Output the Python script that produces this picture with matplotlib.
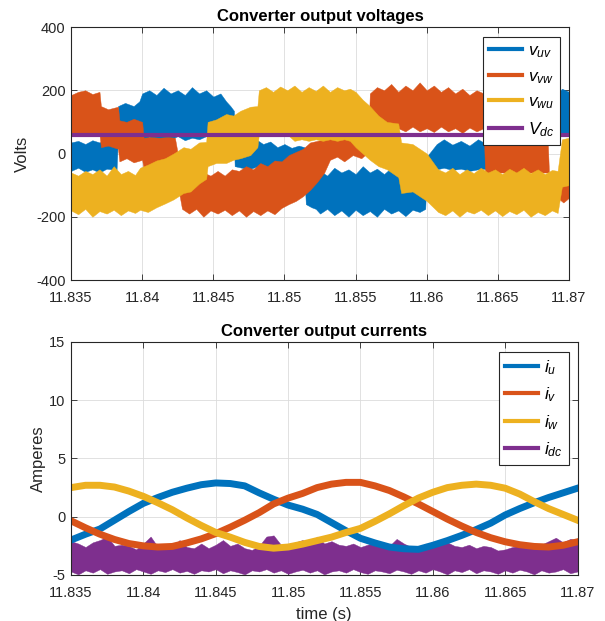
import numpy as np
import matplotlib
matplotlib.use("Agg")
import matplotlib.pyplot as plt
from matplotlib.ticker import FuncFormatter, MultipleLocator

plt.rcParams['font.family'] = 'Liberation Sans'
plt.rcParams['mathtext.fontset'] = 'custom'
plt.rcParams['mathtext.rm'] = 'Liberation Sans'
plt.rcParams['mathtext.it'] = 'Liberation Sans:italic'
plt.rcParams['axes.unicode_minus'] = False

T0 = 11.835  # start of the time window (s)

# line-line voltages: switching band as lower / upper envelope, time in ms after T0
vuv_ms = [0.0, 0.5, 1.0, 1.5, 2.0, 2.5, 3.2, 3.3, 3.8, 4.4, 4.8, 5.0, 5.5, 6.0, 6.5, 7.0,
          7.5, 8.0, 8.5, 9.0, 9.5, 10.0, 10.5, 10.9, 11.2, 11.45, 11.5, 12.0, 12.5, 13.0,
          13.5, 14.0, 14.5, 15.0, 15.5, 16.0, 16.4, 16.5, 16.9, 17.2, 17.5, 18.0, 18.5,
          19.0, 19.5, 20.0, 20.5, 21.0, 21.5, 22.0, 22.5, 23.0, 23.5, 24.0, 24.5, 24.9,
          25.0, 25.7, 26.2, 26.8, 27.4, 28.0, 28.6, 29.2, 31.5, 31.6, 33.0, 34.0, 34.5, 35.0]
vuv_lo = [-55, -45, -58, -50, -60, -48, -52, 50, 45, 55, 48, 45, 52, 40, 50, 45,
          55, 42, 50, 45, 55, 42, 50, 45, 48, 45, -40, -45, -50, -42,
          -55, -48, -58, -50, -60, -55, -60, -160, -170, -175, -190, -175, -195,
          -180, -200, -178, -195, -182, -200, -175, -190, -180, -198, -178, -185, -175,
          -45, -50, -45, -52, -48, -55, -50, -48, -50, 60, 55, 65, 60, 65]
vuv_hi = [35, 40, 30, 42, 35, 45, 38, 150, 160, 150, 165, 190, 200, 185, 208, 190,
          200, 185, 210, 190, 200, 180, 190, 165, 150, 135, 30, 40, 28, 45,
          30, 38, 20, 30, 18, 25, 20, -95, -85, -70, -55, -70, -45,
          -60, -50, -65, -40, -60, -48, -65, -45, -60, -50, -62, -50, -60,
          -10, 30, 45, 28, 40, 25, 45, 30, 40, 185, 200, 180, 205, 195]

vvw_ms = [0.0, 0.5, 1.0, 1.5, 2.0, 2.1, 2.6, 3.3, 3.4, 3.9, 4.4, 5.0, 5.1, 5.6, 6.2, 6.8,
          7.3, 7.8, 8.3, 8.8, 9.3, 9.8, 10.3, 10.8, 11.3, 11.8, 12.3, 12.8, 13.3, 13.8,
          14.3, 14.8, 15.3, 15.8, 16.3, 16.8, 17.3, 17.8, 18.2, 18.7, 19.2, 19.8, 20.4,
          20.9, 21.0, 21.5, 22.0, 22.5, 23.0, 23.5, 24.0, 24.5, 25.0, 25.5, 26.0, 26.5,
          27.0, 27.5, 28.0, 28.5, 29.0, 29.1, 33.5, 33.6, 34.2, 34.6, 35.0]
vvw_lo = [65, 60, 65, 62, 60, 20, 25, 15, -25, -15, -28, -20, -50, -40, -55, -45,
          -52, -175, -190, -175, -200, -180, -190, -178, -195, -180, -200, -182, -195, -180,
          -192, -172, -160, -150, -135, -115, -90, -60, -20, -10, -25, -5, -15,
          5, 80, 70, 85, 65, 80, 70, 85, 70, 80, 68, 85, 70,
          80, 65, 82, 70, 80, -60, -60, -150, -140, -155, -140]
vvw_hi = [185, 195, 200, 188, 195, 150, 140, 148, 105, 100, 110, 100, 50, 52, 50, 52,
          50, -75, -65, -80, -60, -70, -55, -70, -50, -55, -40, -50, -30, -40,
          -22, -25, -5, 5, 15, 35, 40, 45, 55, 52, 55, 55, 52,
          52, 190, 210, 200, 220, 195, 215, 200, 225, 200, 215, 195, 210,
          190, 205, 185, 200, 190, 45, 45, -70, -65, -75, -70]

vwu_ms = [0.0, 0.5, 1.0, 1.5, 2.0, 2.5, 3.0, 3.5, 4.0, 4.5, 4.85, 5.4, 6.0, 6.6, 7.2, 7.9,
          8.4, 9.0, 9.5, 9.6, 10.2, 10.9, 11.4, 11.9, 12.6, 13.1, 13.2, 13.7, 14.2, 14.7,
          15.2, 15.7, 16.2, 16.7, 17.2, 17.7, 18.2, 18.7, 19.2, 19.6, 20.0, 20.5, 21.0,
          21.6, 22.2, 23.0, 23.2, 24.0, 25.0, 25.8, 26.3, 26.8, 27.3, 27.8, 28.3, 28.8,
          29.3, 29.8, 30.3, 30.8, 31.3, 31.8, 32.3, 32.8, 33.3, 33.8, 34.2, 34.5, 35.0]
vwu_lo = [-180, -192, -175, -200, -182, -190, -178, -195, -180, -188, -178, -185, -170,
          -158, -145, -125, -120, -95, -80, -40, -30, -30, -20, -15, -5, 20, 60, 55, 60,
          55, 60, 40, 45, 40, 45, 40, 45, 40, 45, 40, 20, 0, -20,
          -40, -50, -75, -125, -120, -150, -185, -195, -180, -200, -182, -190, -178,
          -195, -180, -198, -182, -192, -178, -200, -185, -195, -180, -188, -105, -100]
vwu_hi = [-60, -70, -55, -65, -50, -70, -40, -65, -55, -68, -45, -35, -22,
          -15, 0, 20, 15, 35, 37, 100, 108, 125, 120, 135, 148, 150, 200, 210, 195,
          212, 200, 215, 195, 210, 198, 215, 195, 210, 200, 205, 195, 170, 150,
          120, 100, 95, 35, 30, 0, -50, -60, -45, -65, -50, -62, -45,
          -60, -50, -65, -48, -60, -45, -62, -50, -65, -52, -55, 45, 50]

vdc = 58

# phase currents sampled every 1 ms
i_ms = list(range(36))
iu = [-2.0, -1.5, -1.05, -0.3, 0.45, 1.15, 1.65, 2.1, 2.45, 2.75, 2.9, 2.85, 2.65, 2.05,
      1.5, 1.0, 0.65, 0.2, -0.5, -1.2, -1.85, -2.25, -2.6, -2.75, -2.8, -2.45, -2.05,
      -1.6, -1.1, -0.55, 0.15, 0.7, 1.2, 1.65, 2.05, 2.45]
iv = [-0.35, -0.95, -1.5, -1.95, -2.3, -2.5, -2.6, -2.55, -2.25, -1.9, -1.45, -0.9, -0.3,
      0.35, 1.1, 1.6, 2.0, 2.5, 2.8, 2.95, 2.95, 2.65, 2.25, 1.7, 1.1, 0.45, -0.2, -0.8,
      -1.35, -1.8, -2.15, -2.4, -2.55, -2.6, -2.45, -2.15]
iw = [2.5, 2.7, 2.7, 2.55, 2.2, 1.75, 1.2, 0.6, -0.1, -0.75, -1.35, -1.75, -2.2, -2.55,
      -2.7, -2.6, -2.35, -2.05, -1.75, -1.35, -1.0, -0.4, 0.25, 0.95, 1.6, 2.1, 2.5, 2.7,
      2.8, 2.7, 2.45, 1.95, 1.3, 0.7, 0.2, -0.3]

# dc current ripple band, every 0.5 ms
idc_ms = [k * 0.5 for k in range(71)]
idc_hi = [-2.1, -2.3, -2.6, -2.2, -2.0, -1.7, -2.5, -2.4, -2.5, -2.8,
          -2.3, -1.7, -2.6, -2.5, -2.6, -2.0, -2.6, -2.7, -2.3, -2.7,
          -2.4, -2.0, -2.5, -2.3, -2.7, -2.85, -2.5, -1.7, -1.6, -2.4,
          -2.6, -2.2, -2.0, -2.4, -1.7, -2.3, -2.1, -2.4, -2.5, -2.3,
          -2.6, -2.4, -2.2, -2.6, -2.5, -1.9, -2.3, -2.6, -2.7, -2.3,
          -2.6, -2.1, -2.2, -2.5, -2.6, -2.4, -2.7, -2.5, -2.6, -2.9,
          -2.8, -2.6, -2.5, -2.7, -2.3, -2.4, -2.1, -1.8, -2.2, -1.9,
          -2.0]
idc_lo = [-4.7, -4.95, -4.6, -4.8, -4.5, -4.9, -4.7, -4.6, -4.85, -4.5,
          -4.7, -4.9, -4.6, -4.75, -4.5, -4.8, -4.65, -4.9, -4.6, -4.7,
          -4.5, -4.85, -4.6, -4.75, -4.95, -4.6, -4.7, -4.5, -4.8, -4.6,
          -4.9, -4.7, -4.55, -4.8, -4.6, -4.95, -4.7, -4.6, -4.8, -4.5,
          -4.75, -4.9, -4.6, -4.7, -4.85, -4.55, -4.7, -4.9, -4.6, -4.8,
          -4.5, -4.7, -4.95, -4.6, -4.75, -4.5, -4.85, -4.6, -4.7, -4.9,
          -4.6, -4.8, -4.55, -4.7, -4.95, -4.6, -4.8, -4.7, -4.5, -4.85,
          -4.7]

C_BLUE = '#0072BD'
C_ORANGE = '#D95319'
C_YELLOW = '#EDB120'
C_PURPLE = '#7E2F8E'
AX_COLOR = '#262626'


def tsec(ms):
    return T0 + np.asarray(ms, dtype=float) / 1000.0


def style_axes(ax):
    ax.set_xlim(11.835, 11.87)
    ax.xaxis.set_major_locator(MultipleLocator(0.005))
    ax.xaxis.set_major_formatter(FuncFormatter(lambda x, p: '%g' % round(x, 4)))
    ax.grid(True, color='#dcdcdc', lw=0.6)
    ax.set_axisbelow(True)
    ax.tick_params(direction='in', top=True, right=True, length=4, width=0.6,
                   colors=AX_COLOR, labelsize=10.5)
    ax.tick_params(axis='x', pad=8)
    ax.tick_params(axis='y', pad=4)
    for s in ax.spines.values():
        s.set_color(AX_COLOR)
        s.set_linewidth(0.8)


def add_legend(ax, labels, anchor):
    handles = [plt.Line2D([], [], color=c, lw=3)
               for c in (C_BLUE, C_ORANGE, C_YELLOW, C_PURPLE)]
    leg = ax.legend(handles, labels, loc='upper right', bbox_to_anchor=anchor,
                    borderaxespad=0, fontsize=12.5, handlelength=1.9,
                    labelspacing=0.5, handletextpad=0.35, borderpad=0.35,
                    fancybox=False, framealpha=1, edgecolor=AX_COLOR)
    leg.get_frame().set_linewidth(0.8)
    return leg


fig = plt.figure(figsize=(6.05, 6.21), dpi=100)
ax1 = fig.add_axes([0.1174, 0.5491, 0.8231, 0.4074])
ax2 = fig.add_axes([0.1174, 0.0741, 0.8372, 0.3752])

# voltages
ax1.fill_between(tsec(vuv_ms), vuv_lo, vuv_hi, color=C_BLUE, lw=0.3)
ax1.fill_between(tsec(vvw_ms), vvw_lo, vvw_hi, color=C_ORANGE, lw=0.3)
ax1.fill_between(tsec(vwu_ms), vwu_lo, vwu_hi, color=C_YELLOW, lw=0.3)
ax1.axhline(vdc, color=C_PURPLE, lw=3)
ax1.set_ylim(-400, 400)
ax1.yaxis.set_major_locator(MultipleLocator(200))
style_axes(ax1)
ax1.set_ylabel('Volts', fontsize=12, color=AX_COLOR, labelpad=4)
ax1.set_title('Converter output voltages', fontsize=12, fontweight='bold', pad=4)
add_legend(ax1, [r'$v_{uv}$', r'$v_{vw}$', r'$v_{wu}$', r'$V_{dc}$'], (0.982, 0.960))

# currents
ti = tsec(i_ms)
ax2.plot(ti, iu, color=C_BLUE, lw=5)
ax2.plot(ti, iv, color=C_ORANGE, lw=5)
ax2.plot(ti, iw, color=C_YELLOW, lw=5)
ax2.fill_between(tsec(idc_ms), idc_lo, idc_hi, color=C_PURPLE, lw=0.3)
ax2.set_ylim(-5, 15)
ax2.yaxis.set_major_locator(MultipleLocator(5))
style_axes(ax2)
ax2.set_ylabel('Amperes', fontsize=12, color=AX_COLOR, labelpad=2)
ax2.set_xlabel('time (s)', fontsize=12, color=AX_COLOR, labelpad=5)
ax2.set_title('Converter output currents', fontsize=12, fontweight='bold', pad=4)
add_legend(ax2, [r'$i_u$', r'$i_v$', r'$i_w$', r'$i_{dc}$'], (0.983, 0.957))

fig.savefig('out.png', dpi=100, facecolor='white')
